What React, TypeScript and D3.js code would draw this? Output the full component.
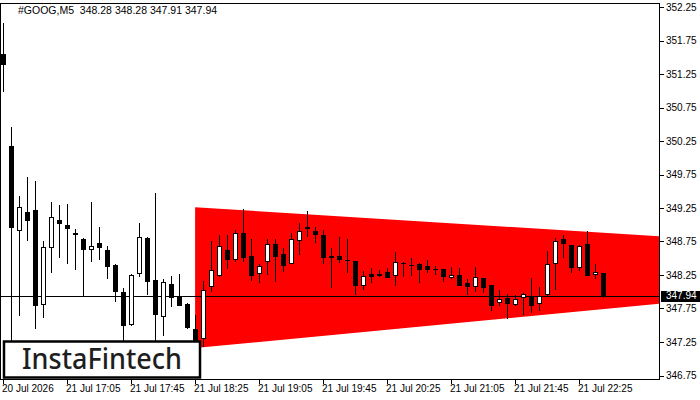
import React from "react";
import * as d3 from "d3";

const opens = [351.55,350.18,348.91,349.19,349.22,347.80,348.65,349.07,349.00,348.88,348.79,348.62,348.73,348.63,348.40,347.99,347.51,348.27,348.80,348.17,347.63,348.11,347.92,347.82,347.45,347.30,348.07,348.24,348.63,348.48,348.87,348.53,348.26,348.44,348.72,348.56,348.42,348.75,348.96,348.90,348.85,348.53,348.54,348.47,348.46,348.09,348.26,348.27,348.29,348.24,348.43,348.40,348.41,348.38,348.34,348.34,348.21,348.25,348.13,348.07,348.20,348.10,347.83,347.90,347.80,347.90,347.94,347.81,347.95,348.42,348.78,348.70,348.36,348.72,348.25,348.28];
const highs = [352.01,350.46,349.43,349.72,349.65,348.76,349.34,349.29,349.31,348.94,348.80,349.34,348.97,348.68,348.41,348.06,348.26,349.02,348.82,349.47,348.19,348.24,348.27,347.83,347.65,348.16,348.76,348.85,348.85,348.92,349.23,348.78,348.42,348.78,348.79,348.65,348.88,349.03,349.20,348.97,348.92,348.65,348.81,348.78,348.46,348.31,348.35,348.32,348.35,348.60,348.45,348.51,348.43,348.48,348.39,348.34,348.37,348.35,348.19,348.37,348.21,348.10,348.03,347.97,347.95,347.98,348.20,348.07,348.61,348.80,348.85,348.70,348.70,348.90,348.42,348.28];
const lows = [350.98,347.05,347.64,348.76,347.44,347.61,348.28,348.51,348.41,348.32,347.94,348.45,348.47,348.19,347.85,347.15,347.49,348.22,347.95,347.15,347.34,347.77,347.78,347.45,347.10,347.18,348.00,348.22,348.34,348.45,348.45,348.16,348.13,348.25,348.15,348.30,348.42,348.55,348.81,348.73,348.42,348.06,348.43,348.28,347.95,348.02,348.13,348.22,348.20,348.09,348.22,348.24,348.13,348.28,348.25,348.15,348.19,348.08,347.95,348.00,347.98,347.72,347.79,347.60,347.78,347.66,347.69,347.72,347.92,348.02,348.51,348.28,348.31,348.24,348.19,347.91];
const closes = [351.38,348.95,349.26,349.06,347.78,348.67,349.11,349.01,348.93,348.84,348.63,348.68,348.66,348.37,348.00,347.49,348.25,348.81,348.15,347.66,348.14,347.90,347.79,347.46,347.20,348.03,348.32,348.68,348.48,348.87,348.50,348.24,348.39,348.72,348.52,348.39,348.78,348.90,348.93,348.84,348.51,348.51,348.47,348.46,348.09,348.24,348.22,348.23,348.21,348.44,348.42,348.39,348.33,348.33,348.33,348.22,348.25,348.09,348.07,348.22,348.06,347.78,347.89,347.81,347.89,347.96,347.79,347.94,348.42,348.75,348.72,348.36,348.69,348.24,348.29,347.94];

const priceTicks = [352.25,351.75,351.25,350.75,350.25,349.75,349.25,348.75,348.25,347.75,347.25,346.75];
const timeTickIdx = [0,8,16,24,32,40,48,56,64,72];
const timeLabels = ["20 Jul 2026","21 Jul 17:05","21 Jul 17:45","21 Jul 18:25","21 Jul 19:05","21 Jul 19:45","21 Jul 20:25","21 Jul 21:05","21 Jul 21:45","21 Jul 22:25"];

// triangle pattern: [barIndex, upper, lower]
const triStart = [23.95, 349.26, 347.16];
const triEnd = [81.95, 348.83, 347.82];

const lastPrice = 347.94;
const header = "#GOOG,M5  348.28 348.28 347.91 347.94";

const W = 700, H = 400;
const plotL = 0.5, plotR = 659.5, plotT = 3.5, plotB = 379.5;

export default function App() {
  const x = d3.scaleLinear().domain([0, 1]).range([3.5, 11.5]);
  const y = d3.scaleLinear().domain([346.75, 352.25]).range([375.5, 7]);

  const tri = [
    [x(triStart[0]), y(triStart[1])],
    [x(triEnd[0]), y(triEnd[1])],
    [x(triEnd[0]), y(triEnd[2])],
    [x(triStart[0]), y(triStart[2])],
  ] as [number, number][];
  const triPath = d3.line()(tri) + "Z";

  const font = "'Liberation Sans', Arial, sans-serif";

  return (
    <svg width={W} height={H} style={{ position: "absolute", left: 0, top: 0, background: "#fff" }}>
      <defs>
        <clipPath id="plot">
          <rect x={plotL + 0.5} y={plotT + 0.5} width={plotR - plotL - 1} height={plotB - plotT - 1} />
        </clipPath>
      </defs>
      <rect x={0} y={0} width={W} height={H} fill="#fff" />
      <g clipPath="url(#plot)">
        <path d={triPath} fill="#ff0000" />
        <line x1={plotL} x2={plotR} y1={Math.round(y(lastPrice)) + 0.5} y2={Math.round(y(lastPrice)) + 0.5} stroke="#000" strokeWidth={1} shapeRendering="crispEdges" />
        {opens.map((o, i) => {
          const c = closes[i];
          const cx = x(i);
          const top = Math.round(y(Math.max(o, c)));
          const bot = Math.round(y(Math.min(o, c)));
          const bull = c > o;
          const hgt = Math.max(1, bot - top);
          return (
            <g key={i} shapeRendering="crispEdges">
              <line x1={cx} x2={cx} y1={Math.round(y(highs[i]))} y2={Math.round(y(lows[i]))} stroke="#000" strokeWidth={1} />
              {bull ? (
                <rect x={cx - 2} y={top + 0.5} width={4} height={Math.max(1, hgt - 1)} fill="#fff" stroke="#000" strokeWidth={1} />
              ) : (
                <rect x={cx - 2.5} y={top} width={5} height={hgt} fill="#000" />
              )}
            </g>
          );
        })}
      </g>
      {/* frame */}
      <rect x={plotL} y={plotT} width={plotR - plotL} height={plotB - plotT} fill="none" stroke="#000" strokeWidth={1} shapeRendering="crispEdges" />
      {/* header */}
      <text x={18} y={14} fontFamily={font} fontSize={10.5} fill="#000" style={{ whiteSpace: "pre" }}>{header}</text>
      {/* price axis */}
      {priceTicks.map((p) => (
        <g key={p}>
          <line x1={plotR} x2={plotR + 4} y1={Math.round(y(p)) + 0.5} y2={Math.round(y(p)) + 0.5} stroke="#000" shapeRendering="crispEdges" />
          <text x={666} y={y(p) + 3.5} fontFamily={font} fontSize={10} fill="#000">{p.toFixed(2)}</text>
        </g>
      ))}
      <rect x={661} y={Math.round(y(lastPrice)) - 5} width={39} height={11} fill="#000" />
      <text x={666} y={y(lastPrice) + 3.5} fontFamily={font} fontSize={10} fill="#fff">{lastPrice.toFixed(2)}</text>
      {/* time axis */}
      {timeTickIdx.map((k, j) => (
        <g key={k}>
          <line x1={x(k)} x2={x(k)} y1={plotB} y2={plotB + 4} stroke="#000" shapeRendering="crispEdges" />
          <text x={x(k) - 1.5} y={392} fontFamily={font} fontSize={10} fill="#000">{timeLabels[j]}</text>
        </g>
      ))}
      {/* logo */}
      <rect x={4} y={341.5} width={196} height={36} fill="#fff" stroke="#000" strokeWidth={2.5} />
      <text x={22} y={369} fontFamily="'Noto Sans', sans-serif" fontSize={28} fontWeight={500} fill="#1e1e1e" textLength={160} lengthAdjust="spacingAndGlyphs">InstaFintech</text>
    </svg>
  );
}
